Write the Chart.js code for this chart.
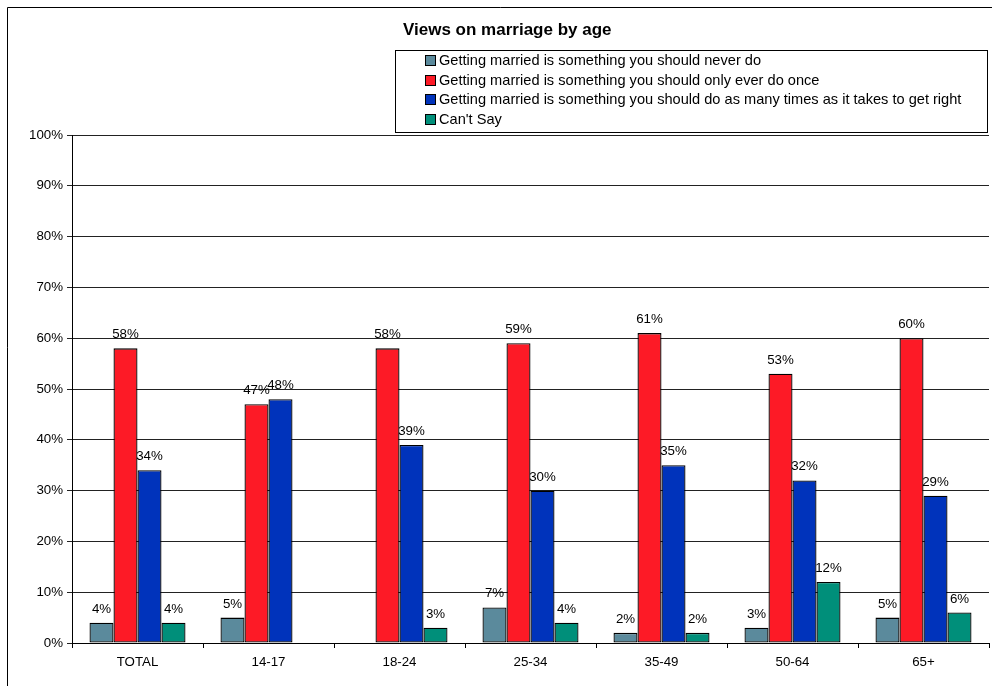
<!DOCTYPE html>
<html>
<head>
<meta charset="utf-8">
<script src="https://cdn.jsdelivr.net/npm/chart.js@4/dist/chart.umd.min.js"></script>
<style>
  body { margin: 0; background: #fff; }
  #wrap { width: 992px; height: 686px; }
</style>
</head>
<body>
<div id="wrap"><canvas id="chart1" width="992" height="686"></canvas></div>
<script>
const chartTitle = "Views on marriage by age";
const ageGroups = ["TOTAL", "14-17", "18-24", "25-34", "35-49", "50-64", "65+"];
const seriesNames = [
  "Getting married is something you should never do",
  "Getting married is something you should only ever do once",
  "Getting married is something you should do as many times as it takes to get right",
  "Can't Say"
];
const neverDo = [4, 5, null, 7, 2, 3, 5];
const onlyOnce = [58, 47, 58, 59, 61, 53, 60];
const manyTimes = [34, 48, 39, 30, 35, 32, 29];
const cantSay = [4, null, 3, 4, 2, 12, 6];
const seriesColors = ["#5b8a9c", "#fd1a26", "#0033bb", "#008f7a"];
const yTicks = [0, 10, 20, 30, 40, 50, 60, 70, 80, 90, 100];

const FONT = "'Liberation Sans', Arial, sans-serif";

// frame, title, legend box and value labels
const extras = {
  id: 'extras',
  afterDatasetsDraw(chart) {
    const ctx = chart.ctx;
    ctx.save();
    ctx.font = "13.3px " + FONT;
    ctx.fillStyle = "#000";
    ctx.textAlign = "center";
    ctx.textBaseline = "alphabetic";
    chart.data.datasets.forEach((ds, i) => {
      const meta = chart.getDatasetMeta(i);
      meta.data.forEach((bar, j) => {
        const v = ds.data[j];
        if (v === null || v === undefined) return;
        ctx.fillText(v + "%", bar.x, bar.y - 10);
      });
    });
    ctx.restore();
  },
  afterDraw(chart) {
    const ctx = chart.ctx;
    ctx.save();
    // outer frame
    ctx.strokeStyle = "#000";
    ctx.lineWidth = 1;
    ctx.beginPath();
    ctx.moveTo(7.5, 700);
    ctx.lineTo(7.5, 7.5);
    ctx.lineTo(1000, 7.5);
    ctx.stroke();

    // title
    ctx.fillStyle = "#000";
    ctx.font = "bold 17px " + FONT;
    ctx.textAlign = "left";
    ctx.textBaseline = "alphabetic";
    ctx.fillText(chartTitle, 403, 35);

    // legend box
    ctx.fillStyle = "#fff";
    ctx.fillRect(395.5, 50.5, 592, 82);
    ctx.strokeRect(395.5, 50.5, 592, 82);
    ctx.font = "14.6px " + FONT;
    seriesNames.forEach((name, i) => {
      const base = Math.round(65 + i * 19.7);
      ctx.fillStyle = seriesColors[i];
      ctx.fillRect(425.5, base - 9.5, 10, 10);
      ctx.strokeStyle = "#000";
      ctx.strokeRect(425.5, base - 9.5, 10, 10);
      ctx.fillStyle = "#000";
      ctx.fillText(name, 439, base);
    });
    ctx.restore();
  }
};

function makeSet(label, data, color) {
  return {
    label: label,
    data: data,
    backgroundColor: color,
    borderColor: "#000",
    borderWidth: 1.3,
    borderSkipped: false,
    categoryPercentage: 0.733,
    barPercentage: 1.0
  };
}

const config = {
  type: 'bar',
  data: {
    labels: ageGroups,
    datasets: [
      makeSet(seriesNames[0], neverDo, seriesColors[0]),
      makeSet(seriesNames[1], onlyOnce, seriesColors[1]),
      makeSet(seriesNames[2], manyTimes, seriesColors[2]),
      makeSet(seriesNames[3], cantSay, seriesColors[3])
    ]
  },
  options: {
    responsive: false,
    animation: false,
    layout: { padding: { top: 135, right: 3, left: 0, bottom: 0 } },
    plugins: {
      legend: { display: false },
      title: { display: false },
      tooltip: { enabled: false }
    },
    scales: {
      x: {
        afterFit(scale) { scale.height = 43; },
        grid: {
          offset: true,
          drawOnChartArea: false,
          drawTicks: true,
          tickLength: 5,
          color: "#000"
        },
        border: { color: "#000" },
        ticks: {
          color: "#000",
          font: { family: FONT, size: 13.3 },
          padding: 6
        }
      },
      y: {
        min: 0,
        max: 100,
        afterFit(scale) { scale.width = 72; },
        afterBuildTicks(scale) { scale.ticks = yTicks.map(v => ({ value: v })); },
        grid: {
          color: "#222",
          tickLength: 5
        },
        border: { color: "#000" },
        ticks: {
          color: "#000",
          font: { family: FONT, size: 13.3 },
          padding: 4,
          callback: (v) => v + "%"
        }
      }
    }
  },
  plugins: [extras]
};

const myChart1 = new Chart(document.getElementById('chart1'), config);
</script>
</body>
</html>
